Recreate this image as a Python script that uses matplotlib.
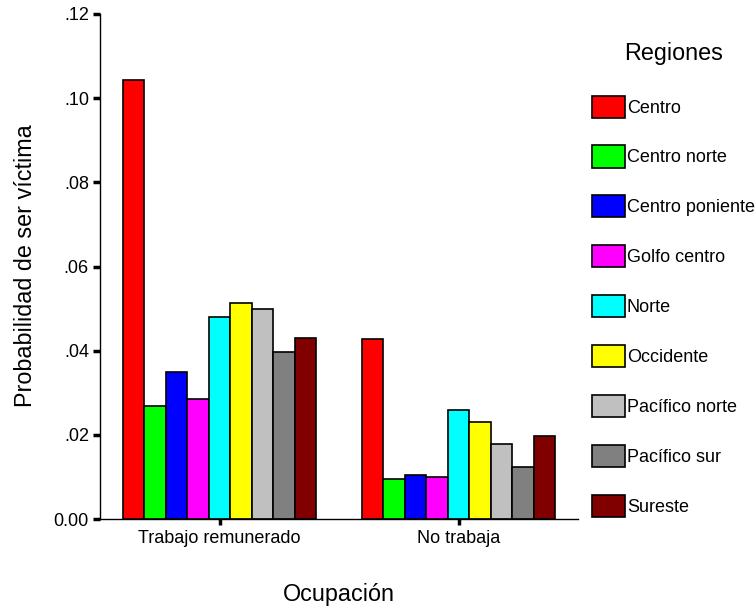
import numpy as np
import matplotlib.pyplot as plt
from matplotlib.ticker import FuncFormatter

plt.rcParams['font.family'] = ['Liberation Sans', 'DejaVu Sans']

ocupacion = ['Trabajo remunerado', 'No trabaja']
regiones = ['Centro', 'Centro norte', 'Centro poniente', 'Golfo centro', 'Norte',
            'Occidente', 'Pacífico norte', 'Pacífico sur', 'Sureste']
colores = ['#FF0000', '#00FF00', '#0000FF', '#FF00FF', '#00FFFF',
           '#FFFF00', '#C0C0C0', '#808080', '#800000']

# probabilidad por region: [trabajo remunerado, no trabaja]
prob = {
    'Centro':          [0.1043, 0.0428],
    'Centro norte':    [0.0269, 0.0094],
    'Centro poniente': [0.0350, 0.0104],
    'Golfo centro':    [0.0286, 0.0099],
    'Norte':           [0.0481, 0.0258],
    'Occidente':       [0.0513, 0.0230],
    'Pacífico norte':  [0.0500, 0.0178],
    'Pacífico sur':    [0.0398, 0.0124],
    'Sureste':         [0.0429, 0.0198],
}

fig = plt.figure(figsize=(7.56, 6.08), dpi=100)
ax = fig.add_axes([100/756, 1 - 519/608, 478/756, 505/608])

x = np.arange(len(ocupacion))
w = 0.0897
n = len(regiones)
for i, r in enumerate(regiones):
    ax.bar(x + (i - (n - 1) / 2) * w, prob[r], w, color=colores[i],
           edgecolor='black', linewidth=1.2, label=r)

ax.set_xlim(-0.5, 1.5)
ax.set_ylim(0, 0.12)
ax.set_yticks([0, 0.02, 0.04, 0.06, 0.08, 0.10, 0.12])
ax.yaxis.set_major_formatter(FuncFormatter(
    lambda v, p: '0.00' if v == 0 else ('%.2f' % v)[1:]))
ax.set_xticks(x)
ax.set_xticklabels(ocupacion)

ax.spines['top'].set_visible(False)
ax.spines['right'].set_visible(False)
ax.spines['left'].set_linewidth(1.0)
ax.spines['bottom'].set_linewidth(1.0)
ax.tick_params(axis='y', length=5, width=2.5, pad=3, labelsize=13)
ax.tick_params(axis='x', length=4, width=2.5, pad=4, labelsize=13)

fig.text(26/756, 1 - 266/608, 'Probabilidad de ser víctima', rotation=90,
         ha='center', va='center', fontsize=16.8)
fig.text(339/756, 1 - 594/608, 'Ocupación', ha='center', va='center',
         fontsize=16.8)

leg = ax.legend(loc='upper left', bbox_to_anchor=(592/756, 1 - 42/608),
                bbox_transform=fig.transFigure, frameon=False,
                fontsize=13, title='Regiones', title_fontsize=16.8,
                handlelength=1.83, handleheight=1.5, labelspacing=1.545,
                handletextpad=0.1, borderpad=0, borderaxespad=0)
leg._legend_box.sep = 22

fig.savefig('out.png', dpi=100)
